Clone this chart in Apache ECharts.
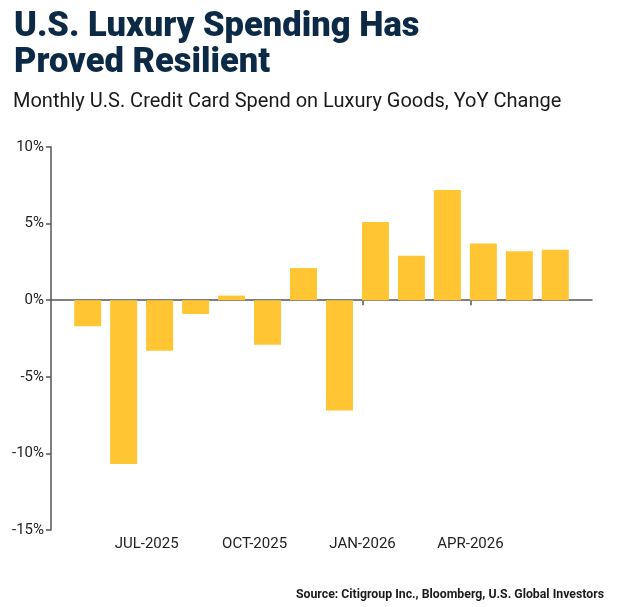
<!DOCTYPE html>
<html>
<head>
<meta charset="utf-8">
<script src="https://cdn.jsdelivr.net/npm/echarts@6/dist/echarts.min.js"></script>
<style>
  html, body { margin: 0; padding: 0; background: #ffffff; }
  #chart { width: 620px; height: 607px; }
</style>
</head>
<body>
<div id="chart"></div>
<script>
// ---- data ----
const months = ['2025-05','2025-06','2025-07','2025-08','2025-09','2025-10','2025-11',
                '2025-12','2026-01','2026-02','2026-03','2026-04','2026-05','2026-06'];
const yoyChange = [-1.7, -10.7, -3.3, -0.9, 0.3, -2.9, 2.1, -7.2, 5.1, 2.9, 7.2, 3.7, 3.2, 3.3];
const tickMonths = ['2025-07','2025-10','2026-01','2026-04'];
const tickLabels = ['JUL-2025','OCT-2025','JAN-2026','APR-2026'];
const yTicks = [-15, -10, -5, 0, 5, 10];

// ---- chart ----
const TITLE_COLOR = '#0c2a45';
const BAR_COLOR = '#ffc532';
const AXIS_COLOR = '#555555';
const EDGE = -0.36; // month boundary relative to bar centre (in category units)

const tickPos = tickMonths.map(m => months.indexOf(m) + EDGE);

const chart = echarts.init(document.getElementById('chart'), null, { renderer: 'canvas' });
chart.setOption({
  animation: false,
  backgroundColor: '#ffffff',
  title: [
    {
      text: 'U.S. Luxury Spending Has\nProved Resilient',
      left: 14, top: 9, padding: 0,
      textStyle: { fontFamily: 'Roboto', fontWeight: 900, fontSize: 34.5, lineHeight: 36, color: TITLE_COLOR }
    },
    {
      text: 'Monthly U.S. Credit Card Spend on Luxury Goods, YoY Change',
      left: 13, top: 92, padding: 0,
      textStyle: { fontFamily: 'Roboto', fontWeight: 'normal', fontSize: 20, color: '#1a1a1a' }
    },
    {
      text: '{b|Source:} Citigroup Inc., Bloomberg, U.S. Global Investors',
      right: 16, top: 589, padding: 0,
      textStyle: {
        fontFamily: 'Roboto', fontSize: 12.3, color: '#1a1a1a',
        rich: { b: { fontFamily: 'Roboto', fontWeight: 'bold', fontSize: 12.3, color: '#1a1a1a' } }
      }
    }
  ],
  grid: { left: 51, right: 28, top: 147, bottom: 77, containLabel: false },
  xAxis: [
    {
      type: 'value', position: 'bottom',
      min: -1.02, max: 14.02,
      axisLine: { show: false, onZero: false },
      axisTick: { show: false },
      splitLine: { show: false },
      axisLabel: {
        customValues: tickPos,
        margin: 7,
        fontFamily: 'Roboto', fontSize: 15, color: '#222222',
        formatter: function (v) {
          let best = 0, d = Infinity;
          tickPos.forEach((p, i) => { if (Math.abs(p - v) < d) { d = Math.abs(p - v); best = i; } });
          return tickLabels[best];
        }
      }
    },
    {
      type: 'value', position: 'bottom',
      min: -1.02, max: 14.02,
      axisLine: { show: true, onZero: true, lineStyle: { color: AXIS_COLOR, width: 1.5 } },
      axisTick: { show: true, customValues: tickPos, length: 5, lineStyle: { color: AXIS_COLOR, width: 1.5 } },
      axisLabel: { show: false },
      splitLine: { show: false }
    }
  ],
  yAxis: {
    type: 'value', min: yTicks[0], max: yTicks[yTicks.length - 1], interval: 5,
    axisLine: { show: true, onZero: false, lineStyle: { color: AXIS_COLOR, width: 1.5 } },
    axisTick: { show: true, length: 5, lineStyle: { color: AXIS_COLOR, width: 1.5 } },
    splitLine: { show: false },
    axisLabel: {
      margin: 7, fontFamily: 'Roboto', fontSize: 15, color: '#222222',
      formatter: v => v + '%'
    }
  },
  series: [{
    type: 'bar',
    xAxisIndex: 0,
    barWidth: 27,
    itemStyle: { color: BAR_COLOR },
    data: yoyChange.map((v, i) => [i, v])
  }]
});
</script>
</body>
</html>
